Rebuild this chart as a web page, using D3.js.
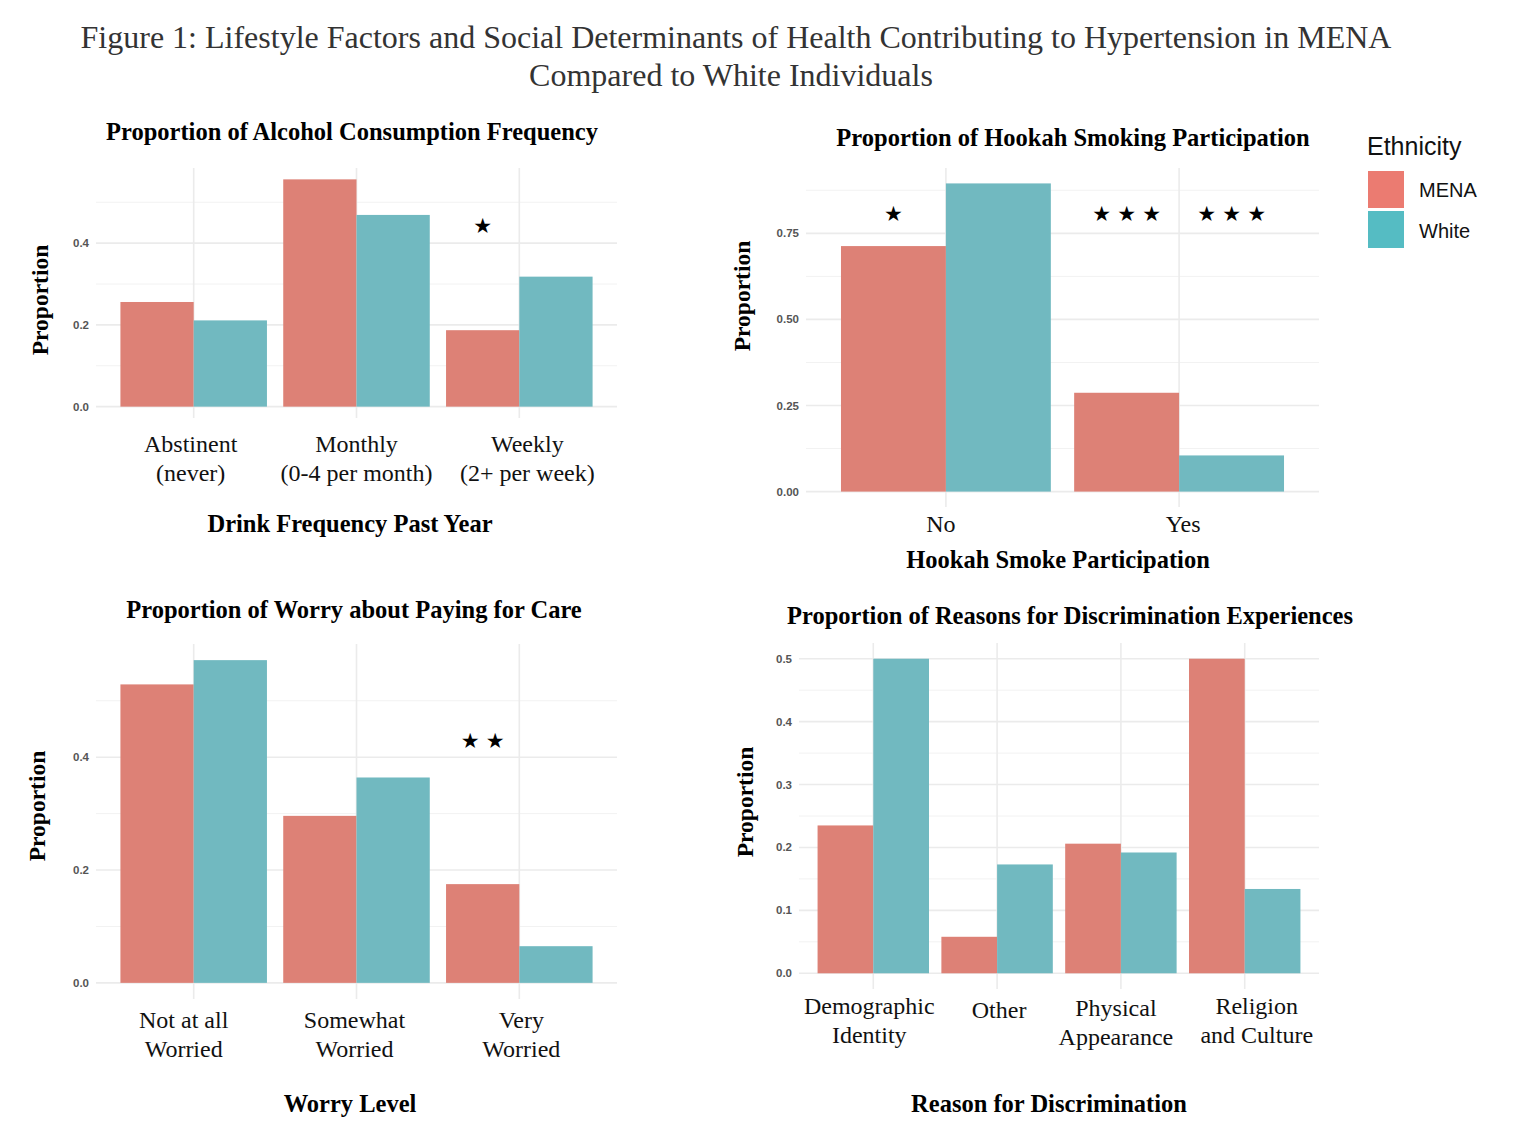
<!DOCTYPE html>
<html>
<head>
<meta charset="utf-8">
<script src="https://cdn.jsdelivr.net/npm/d3@7"></script>
<style>
  body { margin: 0; background: #fff; }
  .serif { font-family: "Liberation Serif", "Times New Roman", serif; }
  .sans { font-family: "Liberation Sans", Arial, sans-serif; }
</style>
</head>
<body>
<div id="chart"></div>
<script>
// ---- data ----
var ethnicities = ["MENA", "White"];

var alcoholCats = [["Abstinent", "(never)"], ["Monthly", "(0-4 per month)"], ["Weekly", "(2+ per week)"]];
var alcoholMena = [0.256, 0.556, 0.187];
var alcoholWhite = [0.211, 0.469, 0.318];
var alcoholTicks = [0, 0.2, 0.4];
var alcoholTickLabels = ["0.0", "0.2", "0.4"];
var alcoholMinor = [0.1, 0.3, 0.5];

var hookahCats = [["No"], ["Yes"]];
var hookahMena = [0.713, 0.287];
var hookahWhite = [0.895, 0.105];
var hookahTicks = [0, 0.25, 0.5, 0.75];
var hookahTickLabels = ["0.00", "0.25", "0.50", "0.75"];
var hookahMinor = [0.125, 0.375, 0.625, 0.875];

var worryCats = [["Not at all", "Worried"], ["Somewhat", "Worried"], ["Very", "Worried"]];
var worryMena = [0.529, 0.296, 0.175];
var worryWhite = [0.572, 0.364, 0.065];
var worryTicks = [0, 0.2, 0.4];
var worryTickLabels = ["0.0", "0.2", "0.4"];
var worryMinor = [0.1, 0.3, 0.5];

var discrimCats = [["Demographic", "Identity"], ["Other"], ["Physical", "Appearance"], ["Religion", "and Culture"]];
var discrimMena = [0.235, 0.058, 0.206, 0.5];
var discrimWhite = [0.5, 0.173, 0.192, 0.134];
var discrimTicks = [0, 0.1, 0.2, 0.3, 0.4, 0.5];
var discrimTickLabels = ["0.0", "0.1", "0.2", "0.3", "0.4", "0.5"];
var discrimMinor = [0.05, 0.15, 0.25, 0.35, 0.45];

// significance stars: category index, series, height, number of stars
var alcoholStars = [{cat: 2, eth: "MENA", y: 0.443, n: 1}];
var hookahStars = [{cat: 0, eth: "MENA", y: 0.806, n: 1}, {cat: 1, eth: "MENA", y: 0.806, n: 3}, {cat: 1, eth: "White", y: 0.806, n: 3}];
var worryStars = [{cat: 2, eth: "MENA", y: 0.43, n: 2}];
var discrimStars = [];

var barColors = {MENA: "#dd8176", White: "#71b9c0"};
var legendColors = {MENA: "#eb7b71", White: "#55bcc3"};

// ---- layout ----
var width = 1520, height = 1144;

var svg = d3.select("#chart").append("svg")
    .attr("width", width)
    .attr("height", height);

svg.append("text")
    .attr("class", "serif")
    .attr("x", 736).attr("y", 48)
    .attr("text-anchor", "middle")
    .attr("font-size", "32px")
    .attr("fill", "#333")
    .text("Figure 1: Lifestyle Factors and Social Determinants of Health Contributing to Hypertension in MENA");
svg.append("text")
    .attr("class", "serif")
    .attr("x", 731).attr("y", 86)
    .attr("text-anchor", "middle")
    .attr("font-size", "32px")
    .attr("fill", "#333")
    .text("Compared to White Individuals");

var panels = [
    {title: "Proportion of Alcohol Consumption Frequency", xTitle: "Drink Frequency Past Year",
     cats: alcoholCats, mena: alcoholMena, white: alcoholWhite, ticks: alcoholTicks, tickLabels: alcoholTickLabels,
     minor: alcoholMinor, stars: alcoholStars,
     x0: 96, x1: 617, top: 168, bottom: 418, titleX: 352, titleY: 140, xTitleX: 350, xTitleY: 532,
     yTitleX: 40, yTitleY: 300, labelY: 452, labelDx: [-3, 0, 8], labelDy: [0, 0, 0]},
    {title: "Proportion of Hookah Smoking Participation", xTitle: "Hookah Smoke Participation",
     cats: hookahCats, mena: hookahMena, white: hookahWhite, ticks: hookahTicks, tickLabels: hookahTickLabels,
     minor: hookahMinor, stars: hookahStars,
     x0: 806, x1: 1319, top: 168, bottom: 507, titleX: 1073, titleY: 146, xTitleX: 1058, xTitleY: 568,
     yTitleX: 742, yTitleY: 296, labelY: 532, labelDx: [-5, 4], labelDy: [0, 0]},
    {title: "Proportion of Worry about Paying for Care", xTitle: "Worry Level",
     cats: worryCats, mena: worryMena, white: worryWhite, ticks: worryTicks, tickLabels: worryTickLabels,
     minor: worryMinor, stars: worryStars,
     x0: 96, x1: 617, top: 644, bottom: 999, titleX: 354, titleY: 618, xTitleX: 350, xTitleY: 1112,
     yTitleX: 37, yTitleY: 806, labelY: 1028, labelDx: [-10, -2, 2], labelDy: [0, 0, 0]},
    {title: "Proportion of Reasons for Discrimination Experiences", xTitle: "Reason for Discrimination",
     cats: discrimCats, mena: discrimMena, white: discrimWhite, ticks: discrimTicks, tickLabels: discrimTickLabels,
     minor: discrimMinor, stars: discrimStars,
     x0: 799, x1: 1319, top: 643, bottom: 989, titleX: 1070, titleY: 624, xTitleX: 1049, xTitleY: 1112,
     yTitleX: 745, yTitleY: 802, labelY: 1014, labelDx: [-4, 2, -5, 12], labelDy: [0, 4, 2, 0]}
];

panels.forEach(function (p) {
    var names = p.cats.map(function (c) { return c.join(" "); });
    var maxVal = d3.max(p.mena.concat(p.white));

    // ggplot-style discrete axis: 0.6 padding outside first and last category
    var xScale = d3.scaleLinear()
        .domain([1 - 0.6, names.length + 0.6])
        .range([p.x0, p.x1]);
    var yScale = d3.scaleLinear()
        .domain([-0.05 * maxVal, 1.05 * maxVal])
        .range([p.bottom, p.top]);

    var g = svg.append("g");

    // grid
    g.selectAll(".minor").data(p.minor).enter().append("line")
        .attr("x1", p.x0).attr("x2", p.x1)
        .attr("y1", d => yScale(d)).attr("y2", d => yScale(d))
        .attr("stroke", "#f2f2f2").attr("stroke-width", 1);
    g.selectAll(".major").data(p.ticks).enter().append("line")
        .attr("x1", p.x0).attr("x2", p.x1)
        .attr("y1", d => yScale(d)).attr("y2", d => yScale(d))
        .attr("stroke", "#ebebeb").attr("stroke-width", 1.6);
    g.selectAll(".vgrid").data(names).enter().append("line")
        .attr("x1", (d, i) => xScale(i + 1)).attr("x2", (d, i) => xScale(i + 1))
        .attr("y1", p.top).attr("y2", p.bottom)
        .attr("stroke", "#ebebeb").attr("stroke-width", 1.6);

    // bars
    var bw = xScale(1.45) - xScale(1);
    var rows = [];
    names.forEach(function (n, i) {
        rows.push({i: i, eth: "MENA", v: p.mena[i]});
        rows.push({i: i, eth: "White", v: p.white[i]});
    });
    g.selectAll(".bar").data(rows).enter().append("rect")
        .attr("x", d => xScale(d.i + 1) - (d.eth === "MENA" ? bw : 0))
        .attr("width", bw)
        .attr("y", d => yScale(d.v))
        .attr("height", d => yScale(0) - yScale(d.v))
        .attr("fill", d => barColors[d.eth]);

    // y tick labels
    g.selectAll(".ytick").data(p.ticks).enter().append("text")
        .attr("class", "sans")
        .attr("x", p.x0 - 7)
        .attr("y", d => yScale(d))
        .attr("dy", "0.35em")
        .attr("text-anchor", "end")
        .attr("font-size", "11.5px")
        .attr("font-weight", "bold")
        .attr("fill", "#555")
        .text((d, i) => p.tickLabels[i]);

    // x tick labels (multi-line)
    p.cats.forEach(function (lines, i) {
        var t = g.append("text")
            .attr("class", "serif")
            .attr("text-anchor", "middle")
            .attr("font-size", "24px")
            .attr("fill", "#111");
        lines.forEach(function (line, k) {
            t.append("tspan")
                .attr("x", xScale(i + 1) + p.labelDx[i])
                .attr("y", p.labelY + p.labelDy[i] + k * 29)
                .text(line);
        });
    });

    // stars
    p.stars.forEach(function (s) {
        var cx = xScale(s.cat + 1) + (s.eth === "MENA" ? -bw / 2 : bw / 2);
        for (var k = 0; k < s.n; k++) {
            g.append("text")
                .attr("x", cx + (k - (s.n - 1) / 2) * 25)
                .attr("y", yScale(s.y))
                .attr("dy", "0.35em")
                .attr("text-anchor", "middle")
                .attr("font-family", "DejaVu Sans")
                .attr("font-size", "21px")
                .attr("fill", "#000")
                .text("\u2605");
        }
    });

    // titles
    g.append("text")
        .attr("class", "serif")
        .attr("x", p.titleX).attr("y", p.titleY)
        .attr("text-anchor", "middle")
        .attr("font-size", "24.5px")
        .attr("font-weight", "bold")
        .text(p.title);
    g.append("text")
        .attr("class", "serif")
        .attr("x", p.xTitleX).attr("y", p.xTitleY)
        .attr("text-anchor", "middle")
        .attr("font-size", "24.5px")
        .attr("font-weight", "bold")
        .text(p.xTitle);
    g.append("text")
        .attr("class", "serif")
        .attr("transform", `translate(${p.yTitleX}, ${p.yTitleY}) rotate(-90)`)
        .attr("dy", "0.35em")
        .attr("text-anchor", "middle")
        .attr("font-size", "23.5px")
        .attr("font-weight", "bold")
        .text("Proportion");
});

// legend
var legend = svg.append("g").attr("transform", "translate(1367, 0)");
legend.append("text")
    .attr("class", "sans")
    .attr("x", 0).attr("y", 155)
    .attr("font-size", "25px")
    .attr("fill", "#111")
    .text("Ethnicity");
legend.selectAll(".key").data(ethnicities).enter().append("rect")
    .attr("x", 1)
    .attr("y", (d, i) => 171 + i * 40)
    .attr("width", 36).attr("height", 37)
    .attr("fill", d => legendColors[d]);
legend.selectAll(".keyText").data(ethnicities).enter().append("text")
    .attr("class", "sans")
    .attr("x", 52)
    .attr("y", (d, i) => 190 + i * 41)
    .attr("dy", "0.35em")
    .attr("font-size", "20px")
    .attr("fill", "#111")
    .text(d => d);
</script>
</body>
</html>
